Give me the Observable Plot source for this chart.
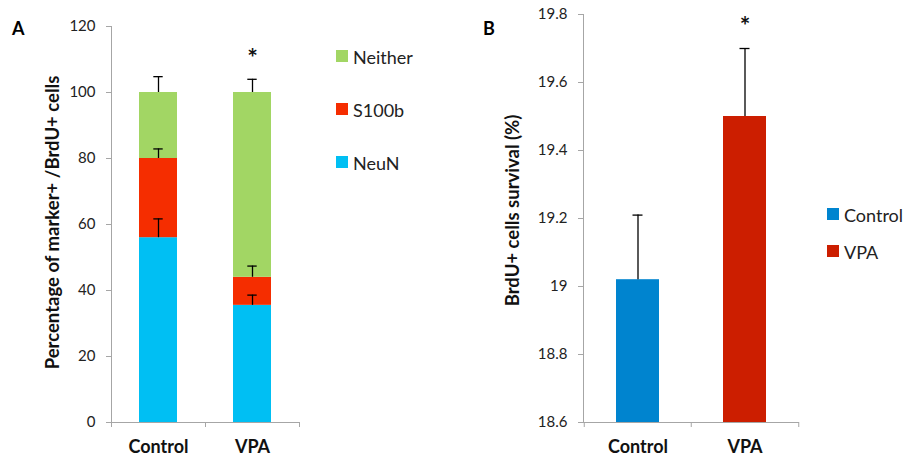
<!DOCTYPE html>
<html><head><meta charset="utf-8">
<script src="https://cdn.jsdelivr.net/npm/d3@7"></script>
<script src="https://cdn.jsdelivr.net/npm/@observablehq/plot@0.6"></script>
<style>
body{margin:0;background:#fff;font-family:Lato,sans-serif;}
#wrap{position:relative;width:907px;height:459px;overflow:hidden;background:#fff}
#wrap svg{position:absolute;top:0}
.panel{position:absolute;font-weight:bold;font-size:18px;line-height:18px;color:#000}
.legend{position:absolute;font-size:18px;color:#222}
.legend .item{position:absolute;left:0;white-space:nowrap;height:12px}
.legend .sw{position:absolute;left:0;top:0;width:12px;height:12px}
.legend .lab{position:absolute;left:17px;top:-3px;line-height:20px}
</style></head><body><div id="wrap"></div>
<script>
// ---------- Data ----------
const groups = ["Control", "VPA"];
const markers = ["NeuN", "S100b", "Neither"];          // stacked bottom -> top
const markerColors = ["#00BFF3", "#F52D00", "#A2D664"];
const legendOrderA = ["Neither", "S100b", "NeuN"];
const controlPct = [56, 24, 20];
const vpaPct = [35.5, 8.5, 56];
const controlPctErr = [5.7, 2.9, 4.8];
const vpaPctErr = [3.1, 3.4, 4.0];
const yTicksA = [0, 20, 40, 60, 80, 100, 120];
const sigA = [{group: "VPA", y: 112}];
const yLabelA = "Percentage of marker+ /BrdU+ cells";

const survival = [19.02, 19.5];
const survivalErr = [0.19, 0.2];
const survivalColors = ["#0084CF", "#CC1E00"];
const yTicksB = [18.6, 18.8, 19, 19.2, 19.4, 19.6, 19.8];
const sigB = [{group: "VPA", y: 19.78}];
const yLabelB = "BrdU+ cells survival (%)";

// ---------- Tables ----------
const rowsA = [];
groups.forEach((g, gi) => {
  const vals = gi === 0 ? controlPct : vpaPct;
  const errs = gi === 0 ? controlPctErr : vpaPctErr;
  let cum = 0;
  markers.forEach((m, mi) => {
    const top = cum + vals[mi];
    rowsA.push({group: g, marker: m, value: vals[mi], top, errTop: top + errs[mi]});
    cum = top;
  });
});
const rowsB = groups.map((g, i) => ({group: g, value: survival[i], errTop: survival[i] + survivalErr[i]}));

const H = 459;
const axisColor = "#a6a6a6";
const capW = 9;
const baseStyle = {fontFamily: "Lato", fontSize: "15px", color: "#222", background: "transparent", overflow: "visible"};

// ---------- Panel A ----------
const WA = 460, mlA = 111, mrA = 161, mtA = 26, mbA = 37;
const stepA = (WA - mlA - mrA) / groups.length;
const bwA = stepA * 0.4;
const plotA = Plot.plot({
  width: WA, height: H, marginLeft: mlA, marginRight: mrA, marginTop: mtA, marginBottom: mbA,
  style: baseStyle,
  x: {domain: groups, paddingInner: 0.6, paddingOuter: 0.3},
  y: {domain: [yTicksA[0], yTicksA[yTicksA.length - 1]]},
  color: {domain: markers, range: markerColors},
  marks: [
    Plot.barY(rowsA, {x: "group", y: "value", fill: "marker", order: markers}),
    Plot.ruleX(rowsA, {x: "group", y1: "top", y2: "errTop", stroke: "#000", strokeWidth: 1.3}),
    Plot.tickY(rowsA, {x: "group", y: "errTop", stroke: "#000", strokeWidth: 1.3, insetLeft: (bwA - capW) / 2, insetRight: (bwA - capW) / 2}),
    Plot.frame({anchor: "left", stroke: axisColor}),
    Plot.frame({anchor: "bottom", stroke: axisColor}),
    Plot.axisY({ticks: yTicksA, tickSize: 5, tickPadding: 11, stroke: axisColor, fill: "#222", label: null, tickFormat: d => String(d)}),
    Plot.axisX({tickSize: 0, tickPadding: 18, fontWeight: "bold", fontSize: 18, fill: "#111", label: null}),
    Plot.axisX({text: null, tickSize: 5, dx: -stepA / 2, stroke: axisColor, label: null}),
    Plot.axisX({ticks: [groups[groups.length - 1]], text: null, tickSize: 5, dx: stepA / 2, stroke: axisColor, label: null}),
    Plot.text([yLabelA], {text: d => d, frameAnchor: "left", textAnchor: "middle", dx: -58, dy: -2, rotate: -90, fontWeight: "bold", fontSize: 18.5, fill: "#111"}),
    Plot.text(sigA, {x: "group", y: "y", dy: 6, text: () => "*", fontWeight: "bold", fontSize: 25, fill: "#111"})
  ]
});
plotA.style.left = "0px";

// ---------- Panel B ----------
const WB = 447, mlB = 123, mrB = 109, mtB = 14, mbB = 37;
const stepB = (WB - mlB - mrB) / groups.length;
const bwB = stepB * 0.4;
const plotB = Plot.plot({
  width: WB, height: H, marginLeft: mlB, marginRight: mrB, marginTop: mtB, marginBottom: mbB,
  style: baseStyle,
  x: {domain: groups, paddingInner: 0.6, paddingOuter: 0.3},
  y: {domain: [yTicksB[0], yTicksB[yTicksB.length - 1]]},
  color: {domain: groups, range: survivalColors},
  marks: [
    Plot.barY(rowsB, {x: "group", y1: yTicksB[0], y2: "value", fill: "group"}),
    Plot.ruleX(rowsB, {x: "group", y1: "value", y2: "errTop", stroke: "#000", strokeWidth: 1.3}),
    Plot.tickY(rowsB, {x: "group", y: "errTop", stroke: "#000", strokeWidth: 1.3, insetLeft: (bwB - 10) / 2, insetRight: (bwB - 10) / 2}),
    Plot.frame({anchor: "left", stroke: axisColor}),
    Plot.frame({anchor: "bottom", stroke: axisColor}),
    Plot.axisY({ticks: yTicksB, tickSize: 5, tickPadding: 11, stroke: axisColor, fill: "#222", label: null, tickFormat: d => String(d)}),
    Plot.axisX({tickSize: 0, tickPadding: 18, fontWeight: "bold", fontSize: 18, fill: "#111", label: null}),
    Plot.axisX({text: null, tickSize: 5, dx: -stepB / 2, stroke: axisColor, label: null}),
    Plot.axisX({ticks: [groups[groups.length - 1]], text: null, tickSize: 5, dx: stepB / 2, stroke: axisColor, label: null}),
    Plot.text([yLabelB], {text: d => d, frameAnchor: "left", textAnchor: "middle", dx: -70, dy: -8, rotate: -90, fontWeight: "bold", fontSize: 18.5, fill: "#111"}),
    Plot.text(sigB, {x: "group", y: "y", dy: 6, text: () => "*", fontWeight: "bold", fontSize: 25, fill: "#111"})
  ]
});
plotB.style.left = "460px";

const wrap = document.getElementById("wrap");
wrap.appendChild(plotA);
wrap.appendChild(plotB);

// ---------- Panel letters & legends ----------
function addDiv(cls, text, left, top) {
  const d = document.createElement("div");
  d.className = cls; d.textContent = text;
  d.style.left = left + "px"; d.style.top = top + "px";
  wrap.appendChild(d); return d;
}
addDiv("panel", "A", 12, 19);
addDiv("panel", "B", 483, 19);

function legend(names, colorOf, left, top, gap) {
  const lg = document.createElement("div");
  lg.className = "legend"; lg.style.left = left + "px"; lg.style.top = top + "px";
  names.forEach((n, i) => {
    const it = document.createElement("div"); it.className = "item"; it.style.top = (i * gap) + "px";
    const sw = document.createElement("div"); sw.className = "sw"; sw.style.background = colorOf(n);
    const lb = document.createElement("div"); lb.className = "lab"; lb.textContent = n;
    it.appendChild(sw); it.appendChild(lb); lg.appendChild(it);
  });
  wrap.appendChild(lg);
}
legend(legendOrderA, n => markerColors[markers.indexOf(n)], 336, 50, 53);
legend(groups, n => survivalColors[groups.indexOf(n)], 827, 208, 37);
</script></body></html>
